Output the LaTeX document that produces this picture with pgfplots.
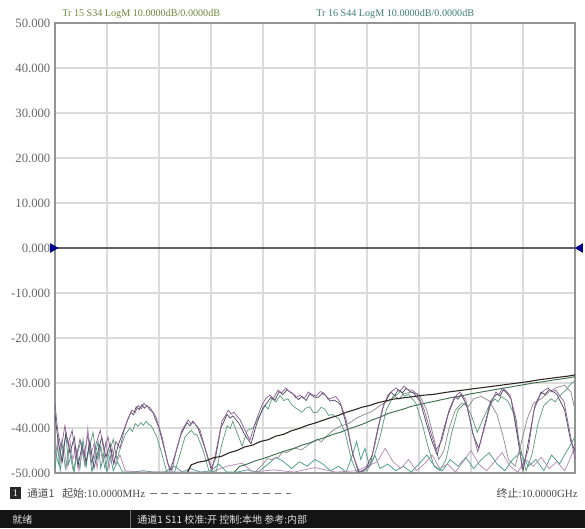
\documentclass[border=0pt]{standalone}
\usepackage{pgfplots}
\pgfplotsset{compat=1.18}
\usepackage{fontspec}
\setmainfont{Liberation Serif}
\newfontfamily\cjk{Noto Sans CJK SC}
\definecolor{cPur}{HTML}{8E5F96}
\definecolor{cSlate}{HTML}{4B4B63}
\definecolor{cGrn}{HTML}{5E9E7E}
\definecolor{cBlk}{HTML}{2E2420}
\definecolor{cDGrn}{HTML}{3F6F4F}
\definecolor{cTeal}{HTML}{4A9A8A}
\definecolor{cLPur}{HTML}{B58BB5}
\definecolor{cGray}{HTML}{8C8C8C}
\definecolor{cTitleA}{HTML}{6B8A3A}
\definecolor{cTitleB}{HTML}{3F8070}
\begin{document}
\begin{tikzpicture}[x=0.75pt,y=0.75pt]
\fill[white] (-55,-55) rectangle (530,473);
\begin{axis}[at={(0,0)}, anchor=south west, scale only axis,
  width=390pt, height=337.5pt,
  xmin=0, xmax=10, ymin=-50, ymax=50,
  xtick={0,1,...,10}, xticklabels={},
  ytick={-50,-40,-30,-20,-10,0,10,20,30,40,50},
  yticklabels={-50.000,-40.000,-30.000,-20.000,-10.000,0.000,10.000,20.000,30.000,40.000,50.000},
  yticklabel style={font=\fontsize{9.5}{11}\selectfont, text=black!60},
  grid=major, major grid style={draw=black!14, line width=0.8pt},
  tick style={draw=none},
  axis line style={draw=black!42, line width=0.9pt},
  clip=false,
  every axis plot/.append style={line width=0.55pt, mark=none},
]
% zero reference line
\addplot[draw=black!62, line width=1pt] coordinates {(0,0) (10,0)};
% series 6 teal noise
\addplot[cTeal] coordinates {(0.00,-49) (0.05,-44) (0.10,-49.5) (0.15,-45) (0.21,-41.5) (0.26,-48) (0.31,-46) (0.37,-49.8) (0.42,-45) (0.48,-49) (0.54,-42.5) (0.60,-48.5) (0.65,-44) (0.71,-49.8) (0.77,-46) (0.83,-43) (0.88,-49) (0.94,-45.5) (1.00,-49.8) (1.06,-46) (1.12,-49.5) (1.20,-47.5) (1.30,-49.8) (1.50,-49.8) (1.70,-49.5) (1.90,-49.8) (2.10,-49.8) (2.30,-48.5) (2.45,-49.8) (2.60,-49) (2.80,-49.8) (3.00,-49.5) (3.15,-48) (3.30,-49.8) (3.50,-49.8) (3.70,-49.3) (3.90,-49.8) (4.10,-48) (4.25,-46.5) (4.40,-47.5) (4.55,-49) (4.70,-47.5) (4.85,-48.5) (5.00,-47) (5.15,-48) (5.30,-49.5) (5.45,-48.5) (5.60,-49.8) (5.72,-46) (5.80,-43) (5.88,-47) (5.96,-44.5) (6.05,-48.5) (6.15,-46) (6.25,-49) (6.40,-48) (6.55,-49.5) (6.70,-48.5) (6.85,-49.8) (7.00,-48) (7.15,-46) (7.30,-48.5) (7.45,-49.5) (7.60,-47) (7.75,-48.5) (7.90,-46.5) (8.05,-49) (8.20,-47) (8.35,-45.5) (8.50,-48) (8.65,-49.5) (8.80,-47) (8.95,-45.5) (9.10,-48.5) (9.25,-47) (9.40,-49.5) (9.55,-46) (9.70,-48) (9.85,-45) (10.0,-42)};
% series 7 light purple noise
\addplot[cLPur] coordinates {(0.00,-47) (0.06,-42) (0.11,-47.5) (0.17,-44) (0.23,-49) (0.29,-43) (0.34,-47) (0.40,-44.5) (0.46,-49.5) (0.52,-45) (0.57,-48) (0.63,-40) (0.69,-46) (0.75,-43.5) (0.81,-49) (0.86,-44) (0.92,-47.5) (0.98,-43) (1.04,-49) (1.10,-44.5) (1.16,-48) (1.25,-46) (1.35,-49.5) (1.6,-49.8) (2.0,-49.8) (2.5,-49.8) (3.0,-49.8) (3.3,-48.5) (3.6,-47.8) (3.8,-49.8) (4.2,-49.3) (4.6,-49.8) (5.0,-48.8) (5.4,-49.8) (5.8,-49.5) (6.2,-47.5) (6.35,-44.5) (6.5,-47.5) (6.65,-49) (6.8,-47) (6.95,-49.5) (7.1,-48) (7.25,-46) (7.4,-49) (7.55,-48) (7.7,-49.8) (7.85,-47.5) (8.0,-45) (8.15,-48) (8.3,-49.5) (8.45,-47.5) (8.6,-45.5) (8.75,-48.5) (8.9,-49.8) (9.05,-47) (9.2,-48.5) (9.35,-46.5) (9.5,-49) (9.65,-47.5) (9.8,-49.5) (9.9,-47) (10.0,-44)};
% series 8 gray mid
\addplot[cGray] coordinates {(3.85,-49.8) (4.0,-48) (4.08,-46.8) (4.15,-47) (4.3,-46.5) (4.38,-45.2) (4.45,-45.5) (4.6,-44.5) (4.75,-44.8) (4.9,-43.5) (5.05,-42.5) (5.12,-43.1) (5.2,-42) (5.35,-40.5) (5.5,-39.5) (5.65,-39) (5.8,-37.8) (5.95,-37) (6.1,-36.3) (6.25,-35) (6.4,-34) (6.55,-33) (6.62,-33.6) (6.7,-32.4) (6.85,-32) (7.0,-32.5) (7.15,-36) (7.28,-42) (7.38,-47) (7.48,-45) (7.58,-40) (7.7,-36) (7.82,-34.5) (7.95,-35.2) (8.05,-33.5) (8.2,-33) (8.35,-34) (8.5,-37) (8.62,-42) (8.72,-47) (8.85,-48.5) (8.95,-44) (9.08,-38) (9.2,-34.5) (9.35,-33.5) (9.5,-32) (9.65,-31) (9.8,-30.5) (9.92,-32) (10.0,-36)};
% series 3 green
\addplot[cGrn] coordinates {(0.00,-45) (0.07,-48) (0.13,-43) (0.20,-49) (0.27,-44.5) (0.35,-49.5) (0.42,-46) (0.50,-43) (0.58,-48.5) (0.65,-45) (0.73,-41) (0.81,-47) (0.88,-44) (0.96,-49) (1.04,-45.5) (1.12,-42.5) (1.19,-47) (1.27,-44) (1.35,-41.5) (1.44,-40) (1.49,-40.8) (1.54,-39) (1.60,-39.6) (1.65,-38.8) (1.70,-39.4) (1.75,-38.5) (1.80,-39.2) (1.85,-39.5) (1.96,-42) (2.06,-46) (2.15,-49.8) (2.30,-49.8) (2.40,-46) (2.50,-42) (2.56,-41.2) (2.62,-40.5) (2.68,-41.4) (2.73,-41.5) (2.85,-45) (2.96,-49.5) (3.10,-49.8) (3.20,-44) (3.31,-39.5) (3.37,-40.1) (3.42,-38.5) (3.50,-41) (3.60,-44) (3.70,-40.5) (3.81,-40) (3.92,-37.5) (4.04,-35) (4.10,-35.8) (4.17,-33.5) (4.25,-34.2) (4.33,-32.8) (4.40,-33.9) (4.48,-33.5) (4.55,-34.8) (4.62,-35.5) (4.75,-36.5) (4.82,-35.6) (4.90,-35.3) (4.97,-36.6) (5.04,-36.5) (5.12,-35.4) (5.19,-35.8) (5.26,-37.2) (5.33,-37) (5.46,-38) (5.58,-41) (5.70,-47) (5.80,-49.8) (6.00,-49.5) (6.12,-47) (6.25,-42) (6.37,-36) (6.50,-33) (6.58,-32.6) (6.65,-31.8) (6.72,-32.9) (6.80,-32.5) (6.94,-34.5) (7.06,-39) (7.17,-44) (7.29,-48.5) (7.40,-49.5) (7.52,-47) (7.63,-41) (7.75,-36) (7.88,-34.5) (8.00,-37) (8.12,-41) (8.23,-38) (8.35,-35) (8.46,-33.5) (8.52,-34.2) (8.58,-33) (8.71,-34) (8.83,-37) (8.94,-44) (9.06,-49.5) (9.17,-46) (9.29,-39) (9.40,-35) (9.54,-33.5) (9.62,-34.2) (9.69,-33) (9.83,-31.5) (9.94,-30) (10.0,-29.5)};
% series 5 dark green line
\addplot[cDGrn, line width=0.7pt] coordinates {(3.45,-49.8) (3.55,-48.5) (3.70,-48.0) (3.85,-47.3) (4.00,-46.8) (4.15,-46.2) (4.30,-45.6) (4.45,-45.0) (4.60,-44.5) (4.75,-43.8) (4.90,-43.3) (5.05,-42.6) (5.20,-42.1) (5.35,-41.4) (5.50,-40.9) (5.65,-40.2) (5.80,-39.6) (5.95,-39.0) (6.10,-38.2) (6.25,-37.6) (6.40,-36.8) (6.55,-36.3) (6.70,-35.8) (6.85,-35.2) (7.00,-34.8) (7.20,-34.3) (7.40,-33.8) (7.60,-33.3) (7.80,-32.9) (8.00,-32.4) (8.20,-32.0) (8.40,-31.6) (8.60,-31.2) (8.80,-30.8) (9.00,-30.4) (9.20,-30.0) (9.40,-29.7) (9.60,-29.3) (9.80,-29.0) (10.0,-28.6)};
% series 2 slate
\addplot[cSlate] coordinates {(0.00,-37) (0.06,-43) (0.14,-47.5) (0.21,-41) (0.29,-45.5) (0.37,-42) (0.44,-48.5) (0.52,-44) (0.60,-47.5) (0.67,-43) (0.75,-49) (0.83,-45) (0.90,-42) (0.98,-46.5) (1.06,-43.5) (1.13,-48) (1.21,-44) (1.29,-41.5) (1.37,-39) (1.46,-36.5) (1.51,-37.1) (1.56,-35.3) (1.62,-35.9) (1.67,-34.8) (1.72,-35.6) (1.77,-35) (1.82,-35.9) (1.88,-36.5) (2.00,-40) (2.12,-45.5) (2.21,-49.5) (2.31,-46) (2.42,-41.5) (2.54,-38.8) (2.60,-39.5) (2.65,-38.5) (2.75,-40) (2.87,-44) (3.00,-49) (3.08,-47) (3.19,-40) (3.31,-37) (3.37,-37.8) (3.42,-37.3) (3.54,-39) (3.65,-41.5) (3.77,-43.5) (3.88,-39) (4.00,-35.5) (4.08,-34.4) (4.15,-33.2) (4.23,-33.8) (4.31,-31.9) (4.38,-32.6) (4.46,-31.5) (4.53,-32.1) (4.60,-32.6) (4.68,-33.7) (4.75,-33) (4.83,-33.9) (4.90,-32.4) (4.98,-33.1) (5.06,-33.2) (5.14,-32.3) (5.21,-32.8) (5.29,-34.0) (5.37,-33.8) (5.44,-34.3) (5.50,-35) (5.62,-40) (5.73,-46) (5.85,-49.8) (5.98,-49) (6.10,-46) (6.21,-40) (6.33,-34.5) (6.40,-33.2) (6.46,-32) (6.53,-32.8) (6.60,-31.5) (6.68,-32.2) (6.75,-31.2) (6.83,-31.9) (6.90,-32.3) (7.02,-34) (7.13,-38.5) (7.25,-43) (7.35,-46) (7.46,-41) (7.58,-36) (7.69,-33) (7.75,-33.6) (7.81,-32.5) (7.92,-35) (8.04,-41.5) (8.15,-44.5) (8.27,-39) (8.38,-34) (8.44,-33.1) (8.50,-32.5) (8.56,-32.9) (8.62,-31.5) (8.70,-32.4) (8.77,-33.5) (8.88,-41) (9.00,-49.5) (9.12,-42) (9.23,-35) (9.35,-32) (9.42,-32.6) (9.50,-31.5) (9.58,-31.9) (9.65,-32.5) (9.80,-36) (9.92,-43) (10.0,-45)};
% series 1 purple
\addplot[cPur] coordinates {(0.00,-34.5) (0.05,-40.5) (0.12,-44.5) (0.19,-39.5) (0.25,-43.5) (0.33,-40.5) (0.40,-47) (0.48,-42.5) (0.56,-46) (0.63,-41.5) (0.71,-48) (0.79,-43.5) (0.87,-40.5) (0.94,-45) (1.02,-42) (1.10,-47) (1.17,-43) (1.25,-44.5) (1.33,-40.5) (1.40,-38) (1.48,-36) (1.54,-36.6) (1.60,-35) (1.66,-35.7) (1.71,-34.5) (1.77,-35.2) (1.83,-35.5) (1.94,-37.5) (2.06,-42) (2.17,-48) (2.25,-49.5) (2.33,-45) (2.44,-40.5) (2.50,-39.4) (2.56,-38.2) (2.62,-39.1) (2.67,-38.7) (2.79,-40.5) (2.90,-45) (3.02,-49.3) (3.10,-45) (3.21,-38.5) (3.27,-37.4) (3.33,-36) (3.39,-36.9) (3.44,-36.5) (3.56,-38.2) (3.67,-40.9) (3.75,-42.7) (3.87,-38.2) (3.98,-34.9) (4.05,-33.5) (4.13,-32.7) (4.20,-33.4) (4.29,-31.6) (4.36,-32.2) (4.44,-31.1) (4.50,-31.8) (4.56,-32.2) (4.63,-33.3) (4.71,-32.7) (4.79,-33.5) (4.87,-32.0) (4.95,-32.6) (5.02,-32.9) (5.10,-31.9) (5.17,-32.2) (5.25,-33.6) (5.33,-33.3) (5.40,-33.0) (5.48,-34.2) (5.60,-38.2) (5.71,-44.9) (5.83,-49.8) (5.94,-49.5) (6.06,-48.2) (6.17,-42.7) (6.29,-36) (6.40,-32.7) (6.48,-31.8) (6.56,-31.1) (6.63,-31.9) (6.71,-30.7) (6.79,-31.5) (6.87,-31.6) (6.98,-32.7) (7.10,-36) (7.21,-40.4) (7.33,-44.9) (7.44,-42.7) (7.56,-37.1) (7.67,-33.8) (7.73,-32.6) (7.79,-32.0) (7.90,-33.8) (8.02,-40.4) (8.13,-45.3) (8.25,-40.4) (8.37,-34.9) (8.48,-32.0) (8.54,-32.6) (8.60,-31.1) (8.68,-31.8) (8.75,-32.7) (8.87,-38.2) (8.98,-48.9) (9.10,-44.9) (9.21,-36) (9.33,-32.7) (9.40,-31.7) (9.48,-31.1) (9.56,-32.0) (9.63,-31.6) (9.79,-34.2) (9.90,-41) (10.0,-47)};
% series 4 black line
\addplot[cBlk, line width=0.8pt] coordinates {(2.55,-49.8) (2.62,-48.2) (2.75,-47.6) (2.90,-47.3) (3.05,-46.6) (3.20,-46.3) (3.35,-45.5) (3.50,-45.0) (3.65,-44.2) (3.80,-43.8) (3.95,-43.0) (4.10,-42.6) (4.25,-41.8) (4.40,-41.4) (4.55,-40.6) (4.70,-40.1) (4.85,-39.4) (5.00,-38.9) (5.15,-38.3) (5.30,-37.7) (5.45,-37.2) (5.60,-36.5) (5.75,-36.0) (5.90,-35.4) (6.05,-35.0) (6.20,-34.4) (6.35,-34.0) (6.50,-33.6) (6.70,-33.3) (6.90,-33.0) (7.10,-32.7) (7.30,-32.5) (7.50,-32.1) (7.70,-31.8) (7.90,-31.5) (8.10,-31.2) (8.30,-30.9) (8.50,-30.6) (8.70,-30.3) (8.90,-30.0) (9.10,-29.7) (9.30,-29.3) (9.50,-29.0) (9.70,-28.7) (9.85,-28.5) (10.0,-28.2)};
% reference markers
\addplot[only marks, mark=triangle*, mark size=3.6pt, mark options={rotate=-90, fill=blue!55!black, draw=blue!55!black}] coordinates {(-0.04,0)};
\addplot[only marks, mark=triangle*, mark size=3.6pt, mark options={rotate=90, fill=blue!55!black, draw=blue!55!black}] coordinates {(10.1,0)};
\end{axis}
% titles
\node[anchor=base west, inner sep=0pt, text=cTitleA, font=\fontsize{7.6}{9}\selectfont] at (7,456) {Tr 15 S34 LogM 10.0000dB/0.0000dB};
\node[anchor=base west, inner sep=0pt, text=cTitleB, font=\fontsize{7.6}{9}\selectfont] at (261,456) {Tr 16 S44 LogM 10.0000dB/0.0000dB};
% channel row
\fill[black!85] (-45,-26) rectangle (-34,-14);
\node[text=white, font=\fontsize{7.5}{9}\selectfont, inner sep=0pt] at (-39.5,-20) {1};
\node[anchor=base west, inner sep=0pt, text=black!70, font=\cjk\fontsize{8}{9}\selectfont] at (-28,-24) {通道1};
\node[anchor=base west, inner sep=0pt, text=black!70, font=\fontsize{8.2}{9}\selectfont] at (7,-24) {{\cjk 起始}:10.0000MHz};
\draw[black!55, line width=0.7pt, dash pattern=on 5 off 3.5] (95,-20.5) -- (236,-20.5);
\node[anchor=base east, inner sep=0pt, text=black!70, font=\fontsize{8.2}{9}\selectfont] at (523,-24) {{\cjk 终止}:10.0000GHz};
% status bar
\fill[black!92] (-55,-55) rectangle (530,-37);
\draw[black!55, line width=0.6pt] (75,-55) -- (75,-37);
\node[anchor=base west, inner sep=0pt, text=black!12, font=\cjk\fontsize{7.5}{9}\selectfont] at (-43,-50) {就绪};
\node[anchor=base west, inner sep=0pt, text=black!12, font=\cjk\fontsize{7.5}{9}\selectfont] at (82,-50) {通道1 S11 校准:开 控制:本地 参考:内部};
\end{tikzpicture}
\end{document}
